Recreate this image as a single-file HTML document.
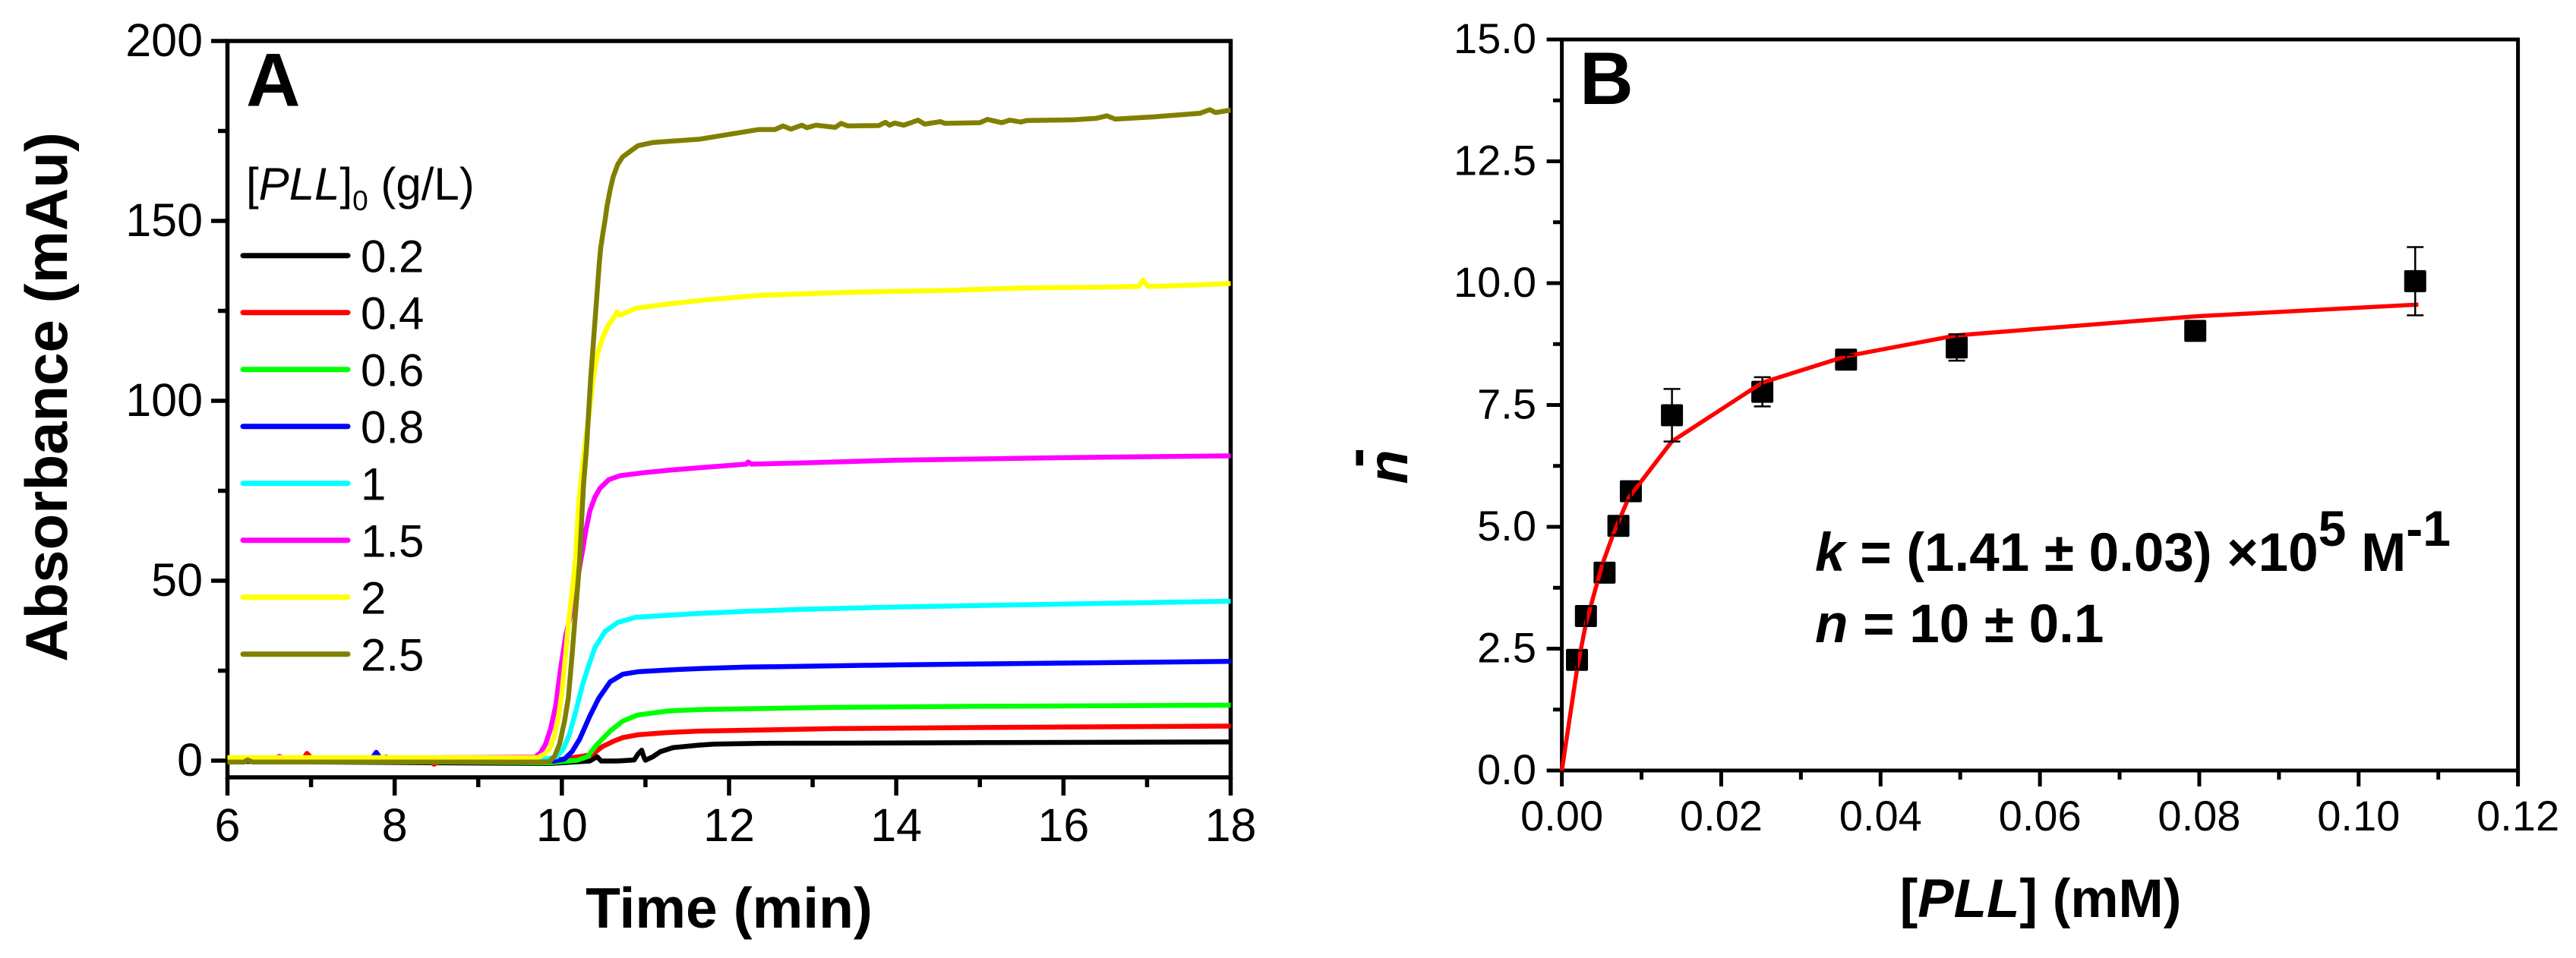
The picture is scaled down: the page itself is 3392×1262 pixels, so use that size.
<!DOCTYPE html>
<html lang="en">
<head>
<meta charset="utf-8">
<title>PLL absorbance and binding curves</title>
<style>
html,body{margin:0;padding:0;background:#fff}
svg{display:block}
text{font-family:"Liberation Sans",Arial,sans-serif;fill:#000}
</style>
</head>
<body>
<svg id="fig" xmlns="http://www.w3.org/2000/svg" width="3392" height="1262" viewBox="0 0 3392 1262">
<rect width="3392" height="1262" fill="#fff"/>
<g id="panelA">
<text x="324" y="139.5" font-size="99" font-weight="700">A</text>
<text transform="translate(88 523) rotate(-90)" text-anchor="middle" font-size="78" font-weight="700">Absorbance (mAu)</text>
<text x="960" y="1222" text-anchor="middle" font-size="75" font-weight="700">Time (min)</text>
<text x="324" y="263" font-size="60">[<tspan font-style="italic">PLL</tspan>]<tspan font-size="37" dy="14">0</tspan><tspan dy="-14"> (g/L)</tspan></text>
</g>
<g id="panelB">
<text x="2080" y="137" font-size="98" font-weight="700">B</text>
<text transform="translate(1853 615) rotate(-90)" text-anchor="middle" font-size="74" font-weight="700" font-style="italic">n</text>
<text transform="translate(1811 603) rotate(-90)" text-anchor="middle" font-size="80" font-weight="700">-</text>
<text x="2687" y="1208" text-anchor="middle" font-size="71" font-weight="700">[<tspan font-style="italic">PLL</tspan>] (mM)</text>
<text x="2390" y="752" font-size="71" font-weight="700"><tspan font-style="italic">k</tspan> = (1.41 ± 0.03) ×10<tspan font-size="66" dy="-33">5</tspan><tspan dy="33"> M</tspan><tspan font-size="66" dy="-33">-1</tspan></text>
<text x="2390" y="846" font-size="71" font-weight="700"><tspan font-style="italic">n</tspan> = 10 ± 0.1</text>
</g>
</svg>
<script>
// ---------- Panel A data ----------
const xMajorA = [6, 8, 10, 12, 14, 16, 18];
const xMinorA = [7, 9, 11, 13, 15, 17];
const yMajorA = [0, 50, 100, 150, 200];
const yMinorA = [25, 75, 125, 175];

const legendLabels = ['0.2', '0.4', '0.6', '0.8', '1', '1.5', '2', '2.5'];
const seriesColors = ['#000000', '#ff0000', '#00ff00', '#0000ff', '#00ffff', '#ff00ff', '#ffff00', '#808000'];

const tBlack = [6, 9.85, 10.335, 10.42, 10.47, 10.665, 10.865, 10.91, 10.955, 10.98, 11, 11.09, 11.18, 11.33, 11.636, 11.82, 12.36, 13.27, 15, 18];
const aBlack = [-0.2, -0.8, -0.1, 1.1, -0.1, -0.1, 0.2, 1.8, 2.9, 1.1, 0.1, 1.1, 2.5, 3.6, 4.3, 4.6, 4.8, 4.85, 5, 5.2];

const tRed = [6, 6.9, 6.95, 7.02, 7.85, 7.9, 7.95, 8.42, 8.47, 8.55, 9.9, 10.12, 10.27, 10.365, 10.486, 10.608, 10.728, 10.91, 11.27, 11.636, 13.27, 15, 18];
const aRed = [0.2, 0.2, 2, 0.3, 0.3, 1, 0.3, 0, -1, -0.1, 0, 0.8, 1.3, 1.8, 3.9, 5.3, 6.4, 7.2, 7.8, 8.2, 8.9, 9.2, 9.6];

const tGreen = [6, 9.85, 10.183, 10.304, 10.425, 10.577, 10.728, 10.91, 11.27, 11.636, 13.27, 15, 18];
const aGreen = [0.1, -0.6, 0.1, 1.1, 4.6, 8.2, 11, 12.7, 13.8, 14.2, 14.8, 15.1, 15.4];

const tBlue = [6, 7.72, 7.78, 7.84, 9.91, 10.03, 10.122, 10.213, 10.335, 10.44, 10.577, 10.728, 10.91, 11.27, 11.636, 12.21, 14, 16, 18];
const aBlue = [0.3, 0.3, 2.3, 0.3, -0.1, 0.4, 2.5, 6, 12.4, 17.3, 21.9, 24, 24.7, 25.2, 25.6, 26, 26.6, 27.1, 27.6];

const tCyan = [6, 9.85, 9.94, 10.017, 10.092, 10.168, 10.244, 10.32, 10.395, 10.517, 10.667, 10.88, 11.27, 11.636, 12.21, 12.82, 14, 16, 18];
const aCyan = [0.4, 0.6, 1.1, 3.2, 7.4, 13.8, 20.8, 26.4, 31.4, 35.9, 38.4, 39.8, 40.4, 40.9, 41.5, 42, 42.7, 43.5, 44.3];

const tMagenta = [6, 6.56, 6.62, 6.68, 9.68, 9.745, 9.805, 9.866, 9.926, 9.986, 10.047, 10.147, 10.2, 10.25, 10.29, 10.335, 10.395, 10.456, 10.562, 10.698, 10.97, 11.27, 11.636, 12.21, 12.226, 12.27, 12.82, 14, 16, 18];
const aMagenta = [0.5, 0.5, 1.2, 0.5, 1, 2.2, 4.6, 8.9, 15.2, 25.7, 34.9, 44.7, 52, 58.8, 64.4, 69.4, 73.2, 75.7, 78.1, 79.2, 80, 80.7, 81.4, 82.4, 83, 82.4, 82.7, 83.5, 84.2, 84.7];

const tYellow = [6, 9.714, 9.79, 9.85, 9.911, 9.956, 10, 10.047, 10.077, 10.122, 10.162, 10.2, 10.238, 10.298, 10.329, 10.374, 10.424, 10.485, 10.56, 10.62, 10.657, 10.697, 10.88, 11.3, 11.7, 12.36, 13.49, 14.62, 15.56, 16.5, 16.9, 16.95, 17.01, 17.26, 18];
const aYellow = [0.84, 0.84, 1.8, 3.2, 6.75, 11.7, 18.7, 30, 37.7, 46.8, 55.6, 70.7, 80, 91.8, 96.8, 105.9, 112.8, 117.3, 121.2, 123.1, 124.7, 123.8, 125.7, 127, 128, 129.3, 130.2, 130.7, 131.4, 131.6, 131.8, 133.5, 131.8, 131.9, 132.6];

const tOlive = [6, 6.2, 6.24, 6.3, 9.714, 9.85, 9.911, 9.972, 10.032, 10.077, 10.122, 10.159, 10.183, 10.213, 10.238, 10.259, 10.295, 10.32, 10.344, 10.447, 10.465, 10.492, 10.517, 10.54, 10.577, 10.613, 10.668, 10.728, 10.85, 10.91, 11.09, 11.33, 11.64, 12.36, 12.55, 12.645, 12.74, 12.87, 12.93, 13.04, 13.27, 13.34, 13.42, 13.79, 13.87, 13.92, 13.98, 14.09, 14.26, 14.34, 14.53, 14.58, 15, 15.09, 15.26, 15.36, 15.49, 15.56, 16.13, 16.39, 16.52, 16.62, 17.07, 17.63, 17.75, 17.82, 18];
const aOlive = [-0.4, -0.4, 0.2, -0.4, -0.4, -0.3, 1.1, 4.6, 11, 17.3, 29.3, 39.8, 46.8, 55.6, 67.2, 76.4, 86.9, 96.8, 105.9, 137.9, 142.5, 146.7, 150.2, 154.1, 158.6, 162.2, 165.7, 167.8, 169.9, 170.9, 171.8, 172.2, 172.7, 175.4, 175.4, 176.4, 175.5, 176.6, 175.9, 176.6, 176, 177.1, 176.4, 176.5, 177.4, 176.6, 177.2, 176.6, 178, 176.9, 177.6, 177.1, 177.3, 178.2, 177.3, 178, 177.5, 177.9, 178.1, 178.5, 179.2, 178.3, 178.9, 179.9, 180.9, 180.1, 180.8];

// ---------- Panel B data ----------
const xMajorB = [0, 0.02, 0.04, 0.06, 0.08, 0.10, 0.12];
const xMinorB = [0.01, 0.03, 0.05, 0.07, 0.09, 0.11];
const yMajorB = [0, 2.5, 5, 7.5, 10, 12.5, 15];
const yMinorB = [1.25, 3.75, 6.25, 8.75, 11.25, 13.75];

const pllConc = [0.0019, 0.00302, 0.00536, 0.0071, 0.00866, 0.01382, 0.02516, 0.03567, 0.04956, 0.0795, 0.1071];
const nBar = [2.27, 3.17, 4.06, 5.02, 5.73, 7.29, 7.77, 8.43, 8.68, 9.02, 10.04];
const nErr = [0.19, 0.2, 0.19, 0.19, 0.19, 0.54, 0.3, 0.1, 0.27, 0.1, 0.7];

const fitConc = [0, 0.0019, 0.00302, 0.0051, 0.0065, 0.0084, 0.0138, 0.02516, 0.03567, 0.0496, 0.0795, 0.1075];
const fitN = [0, 2.07, 3.02, 4.24, 4.87, 5.6, 6.75, 7.96, 8.5, 8.93, 9.32, 9.56];

// ---------- Axis functions ----------
const scale = (d0, d1, r0, r1) => v => r0 + (v - d0) / (d1 - d0) * (r1 - r0);
const xA = scale(6, 18, 299.5, 1620.5);
const yA = scale(0, 200, 1002, 54);
const xB = scale(0, 0.12, 2056.6, 3315.6);
const yB = scale(0, 15, 1015, 52);

const NS = 'http://www.w3.org/2000/svg';
const gA = document.getElementById('panelA');
const gB = document.getElementById('panelB');

function seg(parent, x1, y1, x2, y2, w, color, cap) {
  const el = document.createElementNS(NS, 'line');
  el.setAttribute('x1', x1);
  el.setAttribute('y1', y1);
  el.setAttribute('x2', x2);
  el.setAttribute('y2', y2);
  el.setAttribute('stroke', color || '#000');
  el.setAttribute('stroke-width', w);
  if (cap) el.setAttribute('stroke-linecap', cap);
  parent.appendChild(el);
  return el;
}
function label(parent, x, y, str, size, anchor) {
  const el = document.createElementNS(NS, 'text');
  el.setAttribute('x', x);
  el.setAttribute('y', y);
  el.setAttribute('font-size', size);
  el.setAttribute('text-anchor', anchor);
  el.textContent = str;
  parent.appendChild(el);
  return el;
}
function polyline(parent, xs, ys, fx, fy, color, w) {
  const el = document.createElementNS(NS, 'polyline');
  el.setAttribute('points', xs.map((v, i) => fx(v).toFixed(1) + ',' + fy(ys[i]).toFixed(1)).join(' '));
  el.setAttribute('fill', 'none');
  el.setAttribute('stroke', color);
  el.setAttribute('stroke-width', w);
  el.setAttribute('stroke-linejoin', 'round');
  parent.appendChild(el);
  return el;
}
function frame(parent, x0, x1, y0, y1, w) {
  const el = document.createElementNS(NS, 'rect');
  el.setAttribute('x', x0);
  el.setAttribute('y', y0);
  el.setAttribute('width', x1 - x0);
  el.setAttribute('height', y1 - y0);
  el.setAttribute('fill', 'none');
  el.setAttribute('stroke', '#000');
  el.setAttribute('stroke-width', w);
  parent.appendChild(el);
  return el;
}

// ---------- Panel A ----------
const frameA = frame(gA, 299.5, 1620.5, 54, 1024, 5.5);



xMajorA.forEach(v => {
  const t = seg(gA, xA(v), 1024, xA(v), 1048, 5.5);
  
  
  const l = label(gA, xA(v), 1108, String(v), 61, 'middle');
  
  
});
xMinorA.forEach(v => {
  const t = seg(gA, xA(v), 1024, xA(v), 1037, 5.5);
  
  
});
yMajorA.forEach(v => {
  const t = seg(gA, 278, yA(v), 299.5, yA(v), 5.5);
  
  
  const l = label(gA, 267, yA(v) + 20, String(v), 61, 'end');
  
  
});
yMinorA.forEach(v => {
  const t = seg(gA, 287, yA(v), 299.5, yA(v), 5.5);
  
  
});

const seriesT = [tBlack, tRed, tGreen, tBlue, tCyan, tMagenta, tYellow, tOlive];
const seriesA = [aBlack, aRed, aGreen, aBlue, aCyan, aMagenta, aYellow, aOlive];
seriesT.forEach((ts, i) => {
  const p = polyline(gA, ts, seriesA[i], xA, yA, seriesColors[i], 6.5);
  
  
});

legendLabels.forEach((lab, i) => {
  const y = 336.7 + i * 75;
  const s = seg(gA, 320, y, 458, y, 7, seriesColors[i], 'round');
  
  
  const l = label(gA, 475, y + 21.7, lab, 60, 'start');
  
  
});

// ---------- Panel B ----------
const frameB = frame(gB, 2056.6, 3315.6, 52, 1015, 5);



xMajorB.forEach(v => {
  const t = seg(gB, xB(v), 1015, xB(v), 1036, 5);
  
  
  const l = label(gB, xB(v), 1094, v.toFixed(2), 56, 'middle');
  
  
});
xMinorB.forEach(v => {
  const t = seg(gB, xB(v), 1015, xB(v), 1027, 5);
  
  
});
yMajorB.forEach(v => {
  const t = seg(gB, 2036.6, yB(v), 2056.6, yB(v), 5);
  
  
  const l = label(gB, 2023, yB(v) + 18, v.toFixed(1), 56, 'end');
  
  
});
yMinorB.forEach(v => {
  const t = seg(gB, 2045, yB(v), 2056.6, yB(v), 5);
  
  
});

pllConc.forEach((c, i) => {
  const m = document.createElementNS(NS, 'rect');
  m.setAttribute('x', xB(c) - 14.5);
  m.setAttribute('y', yB(nBar[i]) - 14.5);
  m.setAttribute('width', 29);
  m.setAttribute('height', 29);
  m.setAttribute('rx', 2);
  m.setAttribute('fill', '#000');
  
  
  gB.appendChild(m);
});

const fit = polyline(gB, fitConc, fitN, xB, yB, '#ff0000', 5.5);



pllConc.forEach((c, i) => {
  const hi = yB(nBar[i] + nErr[i]);
  const lo = yB(nBar[i] - nErr[i]);
  const cx = xB(c);
  const stem = seg(gB, cx, hi, cx, lo, 2.5);
  
  
  const capT = seg(gB, cx - 11, hi, cx + 11, hi, 2.5);
  
  
  const capB = seg(gB, cx - 11, lo, cx + 11, lo, 2.5);
  
  
});
</script>
</body>
</html>
